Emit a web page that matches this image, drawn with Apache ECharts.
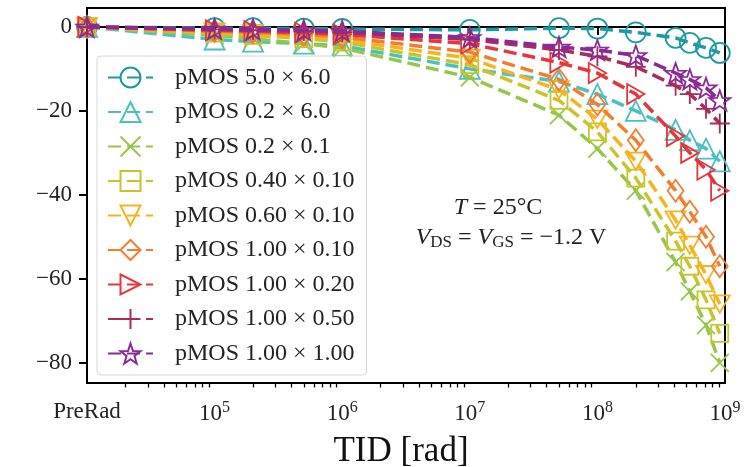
<!DOCTYPE html>
<html>
<head>
<meta charset="utf-8">
<script src="https://cdn.jsdelivr.net/npm/echarts@6/dist/echarts.min.js"></script>
<style>
  html, body { margin: 0; padding: 0; background: #fff; }
  #chart { width: 748px; height: 467px; }
</style>
</head>
<body>
<div id="chart"></div>
<script>
// Total ionizing dose steps; the pre-irradiation point sits at 1e4 on the log axis
const doses = [1e4, 1e5, 2e5, 5e5, 1e6, 1e7, 5e7, 1e8, 2e8, 4.1e8, 5.3e8, 7.1e8, 9.1e8];

const xTickValues = [1e4, 1e5, 1e6, 1e7, 1e8, 1e9];
const xTickLabels = ['PreRad', '10^5', '10^6', '10^7', '10^8', '10^9'];
const yTickValues = [-80, -60, -40, -20, 0];

const deviceNames = [
  'pMOS 5.0 × 6.0', 'pMOS 0.2 × 6.0', 'pMOS 0.2 × 0.1',
  'pMOS 0.40 × 0.10', 'pMOS 0.60 × 0.10', 'pMOS 1.00 × 0.10',
  'pMOS 1.00 × 0.20', 'pMOS 1.00 × 0.50', 'pMOS 1.00 × 1.00'
];

// Relative drain current change [%] per device
const pmos50x60  = [0, -0.3, -0.3, -0.4, -0.5, -0.7, -0.3, -0.4, -1.3, -2.6, -3.8, -5.0, -6.2];
const pmos02x60  = [0, -3.0, -3.5, -4.0, -4.5, -10, -13, -16, -20, -24.5, -27, -29, -32];
const pmos02x01  = [0, -2.0, -2.8, -4.0, -5.0, -12, -21, -29, -39, -56, -63, -71, -80];
const pmos040x010 = [0, -1.5, -2.0, -2.8, -3.6, -9, -17.5, -25, -36, -51, -57, -65, -73];
const pmos060x010 = [0, -1.2, -1.6, -2.3, -3.0, -7.5, -15, -22, -32, -46, -52, -59, -66];
const pmos100x010 = [0, -1.0, -1.3, -1.8, -2.4, -6, -12.5, -18.5, -27, -39, -44, -50, -57];
const pmos100x020 = [0, -0.8, -1.0, -1.4, -1.8, -4.0, -8.5, -11, -16, -26, -30, -34, -39];
const pmos100x050 = [0, -0.6, -0.8, -1.0, -1.3, -3.0, -5.5, -7, -9.5, -14, -16, -19.5, -23];
const pmos100x100 = [0, -0.5, -0.6, -0.8, -1.0, -2.5, -4.8, -5.5, -6.8, -11, -12.5, -14.5, -17.5];

const seriesValues = [pmos50x60, pmos02x60, pmos02x01, pmos040x010, pmos060x010,
                      pmos100x010, pmos100x020, pmos100x050, pmos100x100];

const colors = ['#1c9aa0', '#4bbfc2', '#96c64a', '#c9c42c', '#f4b41f',
                '#f27d2e', '#e6363b', '#a92b5c', '#892a96'];

const STAR = 'path://M0,-10L2.35,-3.24L9.51,-3.09L3.8,1.24L5.88,8.09L0,4.2L-5.88,8.09L-3.8,1.24L-9.51,-3.09L-2.35,-3.24Z';
const symbols = [
  { s: 'circle', size: 20 },
  { s: 'triangle', size: 20 },
  { s: 'path://M0,0L10,10M10,0L0,10', size: 18 },
  { s: 'rect', size: 17 },
  { s: 'path://M0,0L10,0L5,8.66Z', size: 20 },
  { s: 'diamond', size: [16, 22] },
  { s: 'path://M0,0L8.66,5L0,10Z', size: 20 },
  { s: 'path://M5,0L5,10M0,5L10,5', size: 20 },
  { s: STAR, size: 21 }
];

const serif = 'Liberation Serif';

// Minor ticks of the log axis (2..9 per decade)
const minorTicks = [];
for (let e = 4; e < 9; e++) {
  for (let m = 2; m <= 9; m++) minorTicks.push(m * Math.pow(10, e));
}

const series = seriesValues.map((vals, i) => ({
  name: deviceNames[i],
  type: 'line',
  xAxisIndex: 0,
  yAxisIndex: 0,
  data: vals.map((v, k) => [doses[k], v]),
  symbol: symbols[i].s,
  symbolSize: symbols[i].size,
  symbolKeepAspect: true,
  showAllSymbol: true,
  clip: true,
  lineStyle: { color: colors[i], width: 3.5, type: [13, 6] },
  itemStyle: { color: 'rgba(255,255,255,0)', borderColor: colors[i], borderWidth: 1.8 },
  emphasis: { disabled: true },
  z: 2 + i
}));

const chart = echarts.init(document.getElementById('chart'), null, { renderer: 'canvas' });
chart.setOption({
  animation: false,
  backgroundColor: '#fff',
  grid: {
    left: 87, right: 23, top: 8, bottom: 84,
    containLabel: false, outerBoundsMode: 'none',
    show: true, borderColor: '#000', borderWidth: 2, backgroundColor: 'transparent'
  },
  xAxis: [
    {
      type: 'log', logBase: 10, min: 1e4, max: 1e9,
      name: 'TID [rad]', nameLocation: 'middle', nameGap: 51,
      nameTextStyle: { fontFamily: serif, fontSize: 35, color: '#111', padding: [0, 10, 0, 0] },
      axisLine: { show: true, lineStyle: { color: '#000', width: 2 } },
      axisTick: { show: true, customValues: xTickValues, length: 8, lineStyle: { color: '#000', width: 2 } },
      axisLabel: {
        customValues: xTickValues, margin: 17,
        fontFamily: serif, fontSize: 23, color: '#222',
        formatter: function (v) {
          const idx = xTickValues.findIndex(t => Math.abs(Math.log10(t) - Math.log10(v)) < 1e-6);
          const lab = idx >= 0 ? xTickLabels[idx] : '';
          const parts = lab.split('^');
          return parts.length === 2 ? parts[0] + '{sup|' + parts[1] + '}' : lab;
        },
        rich: {
          sup: { fontFamily: serif, fontSize: 16, color: '#222', padding: [0, 0, 12, 0] }
        }
      },
      splitLine: { show: false },
      minorTick: { show: false }
    },
    {
      type: 'log', logBase: 10, min: 1e4, max: 1e9, position: 'bottom',
      axisLine: { show: false },
      axisTick: { show: true, customValues: minorTicks, length: 4.5, lineStyle: { color: '#000', width: 1.3 } },
      axisLabel: { show: false },
      splitLine: { show: false }
    }
  ],
  yAxis: {
    type: 'value', min: -84.8, max: 4.5,
    axisLine: { show: true, lineStyle: { color: '#000', width: 2 } },
    axisTick: { show: true, customValues: yTickValues, length: 8, lineStyle: { color: '#000', width: 2 } },
    axisLabel: {
      customValues: yTickValues, margin: 15,
      fontFamily: serif, fontSize: 23, color: '#222',
      formatter: v => String(v).replace('-', '\u2212')
    },
    splitLine: { show: false }
  },
  legend: {
    orient: 'vertical',
    left: 97, top: 56,
    data: deviceNames,
    backgroundColor: '#fff',
    borderColor: '#d8d8d8', borderWidth: 1, borderRadius: 4,
    padding: [9, 12, 9, 10],
    itemWidth: 45, itemHeight: 25, itemGap: 9.5,
    textStyle: { fontFamily: serif, fontSize: 24, lineHeight: 25, color: '#222', padding: [0, 0, 0, 17] },
    selectedMode: false
  },
  graphic: [
    {
      type: 'text',
      x: 498, y: 208,
      z: 50,
      style: {
        text: '{i|T} = 25°C',
        textAlign: 'center', textVerticalAlign: 'middle',
        fontFamily: serif, fontSize: 24, fill: '#222',
        rich: { i: { fontFamily: serif, fontStyle: 'italic', fontSize: 24, fill: '#222' } }
      }
    },
    {
      type: 'text',
      x: 511, y: 238,
      z: 50,
      style: {
        text: '{i|V}{sub|DS} = {i|V}{sub|GS} = \u22121.2 V',
        textAlign: 'center', textVerticalAlign: 'middle',
        fontFamily: serif, fontSize: 24, fill: '#222',
        rich: {
          i: { fontFamily: serif, fontStyle: 'italic', fontSize: 24, fill: '#222' },
          sub: { fontFamily: serif, fontSize: 17, fill: '#222', padding: [10, 0, 0, 0] }
        }
      }
    }
  ],
  series: series
});
</script>
</body>
</html>
